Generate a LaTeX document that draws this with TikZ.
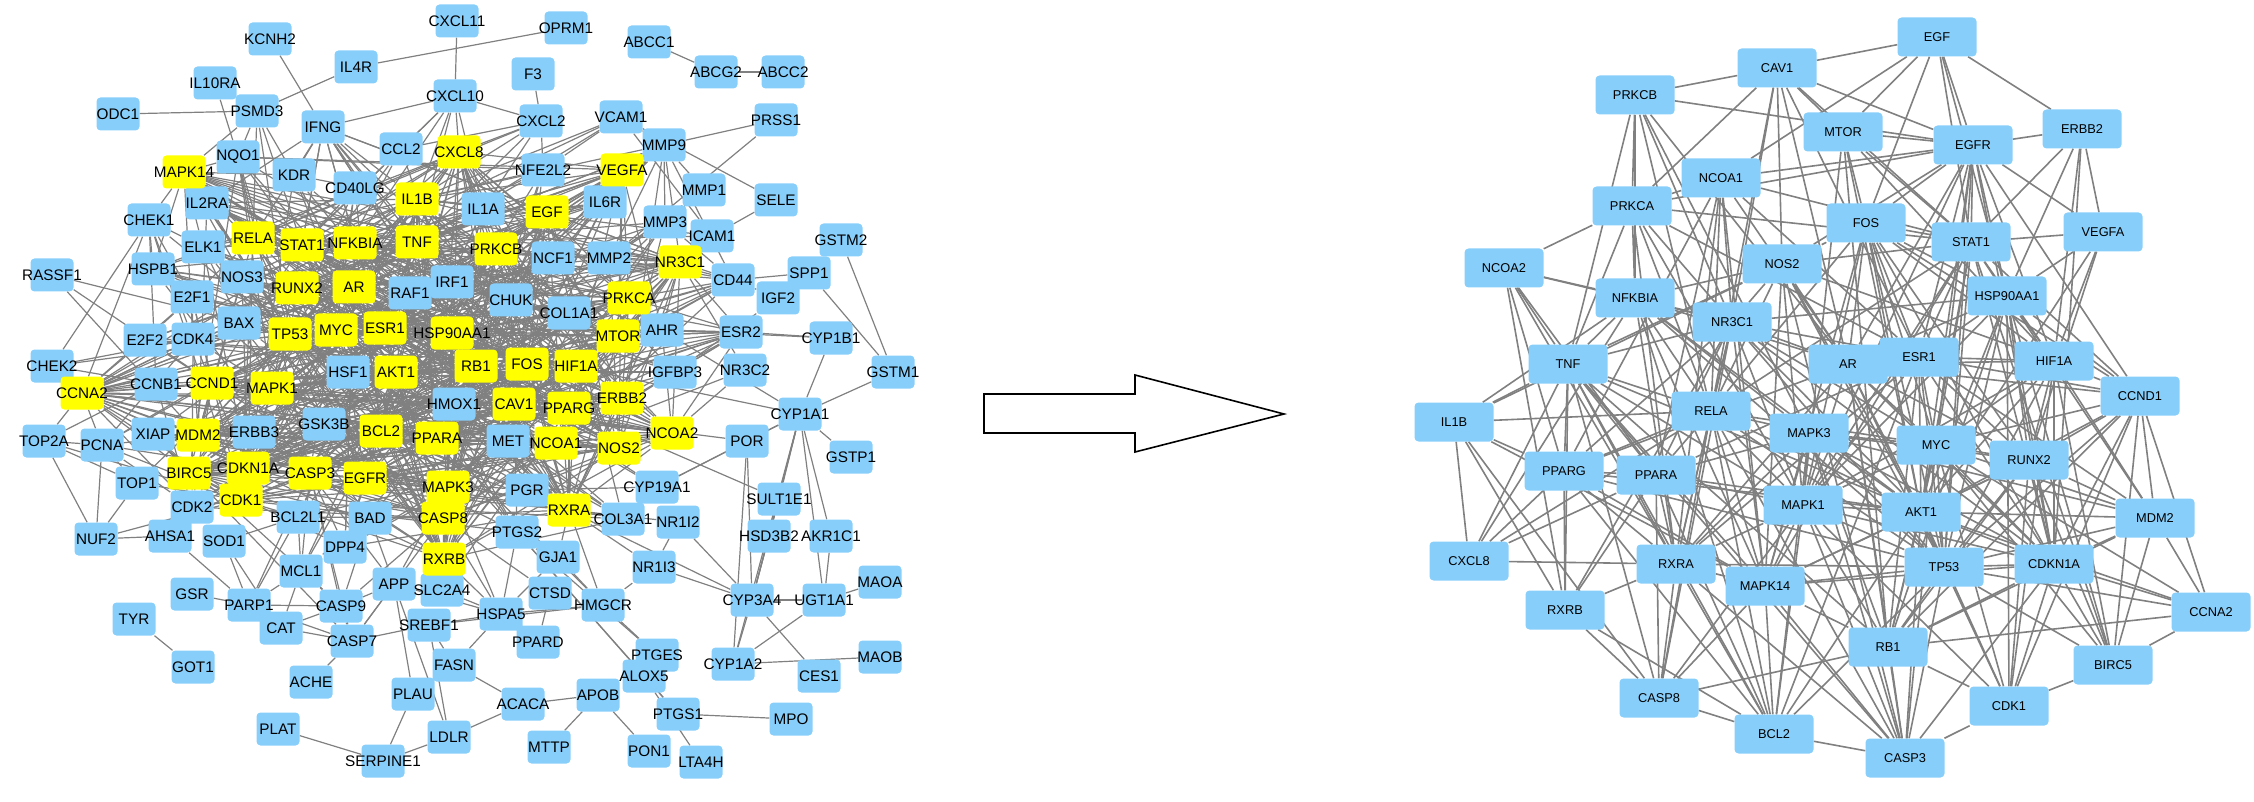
\documentclass[tikz,border=0pt]{standalone}
\usepackage{fontspec}
\setmainfont{Liberation Sans}
\usetikzlibrary{backgrounds}
\definecolor{nodeblue}{RGB}{135,206,250}
\definecolor{hubyellow}{RGB}{255,255,0}
\definecolor{edgegray}{RGB}{128,128,128}
\newcommand\lgenefont{\fontsize{15.3}{17}\selectfont}
\newcommand\rgenefont{\fontsize{12.8}{15}\selectfont}
% hub genes (yellow) and the busy blue genes of the left network
\newcommand\lhubs{MAPK14,RELA,STAT1,NFKBIA,IL1B,TNF,CXCL8,EGF,VEGFA,PRKCB,NR3C1,PRKCA,MTOR,RUNX2,AR,ESR1,TP53,MYC,HSP90AA1,RB1,FOS,HIF1A,AKT1,CAV1,PPARG,ERBB2,NCOA2,CCND1,MAPK1,CCNA2,MDM2,BIRC5,CDKN1A,CDK1,CASP3,BCL2,PPARA,NCOA1,NOS2,EGFR,MAPK3,CASP8,RXRA,RXRB}
\newcommand\lcore{KDR,CD40LG,IL2RA,ELK1,IL1A,NCF1,MMP2,CCL2,NFE2L2,IL6R,NOS3,E2F1,BAX,CDK4,CCNB1,HSF1,GSK3B,XIAP,ERBB3,RAF1,IRF1,CHUK,COL1A1,HMOX1,MET,PGR,BCL2L1,BAD,AHR,IGFBP3,ESR2,CD44,MMP9,MMP3,IFNG,NQO1,HSPB1,CDK2,PTGS2,COL3A1,DPP4,E2F2}

\begin{document}
\begin{tikzpicture}[x=1pt,y=-1pt,
  lnode/.style={rectangle,rounded corners=4pt,fill=nodeblue,minimum width=43pt,minimum height=33pt,inner sep=0pt,font=\lgenefont},
  lhub/.style={lnode,fill=hubyellow},
  rnode/.style={rectangle,rounded corners=4pt,fill=nodeblue,minimum width=79pt,minimum height=39pt,inner sep=0pt,font=\rgenefont},
  ledge/.style={edgegray,line width=1.2pt},
  redge/.style={edgegray,line width=1.6pt}]
\useasboundingbox (0,0) rectangle (2254,802);

% left network: all targets
\foreach \n/\x/\y in {KCNH2/270/39, IL4R/356/67, IL10RA/215/83, ODC1/118/114, PSMD3/257/111, IFNG/323/127, NQO1/238/157, KDR/294/175, CD40LG/355/188, IL2RA/207/203, CHEK1/149/220, ELK1/203/247, HSPB1/153/269, RASSF1/52/275, CXCL11/457/21, OPRM1/566/28, ABCC1/649/42, ABCG2/716/72, ABCC2/783/72, F3/533/74, CXCL10/455/96, CXCL2/541/121, VCAM1/621/117, PRSS1/776/120, MMP9/664/145, CCL2/401/149, NFE2L2/543/170, MMP1/704/190, SELE/776/200, IL1A/483/209, IL6R/605/202, MMP3/665/222, ICAM1/712/236, GSTM2/841/240, NCF1/553/258, MMP2/609/258, CD44/733/280, SPP1/809/273, IGF2/778/298, NOS3/242/277, E2F1/192/297, RAF1/410/293, IRF1/452/282, CHUK/511/300, COL1A1/569/313, AHR/662/330, ESR2/741/332, CYP1B1/831/338, BAX/239/323, E2F2/145/340, CDK4/193/339, CHEK2/52/366, HSF1/348/372, IGFBP3/675/372, NR3C2/745/370, GSTM1/893/372, CCNB1/156/384, HMOX1/454/404, CYP1A1/800/414, GSK3B/324/424, XIAP/153/434, ERBB3/254/432, TOP2A/44/441, PCNA/102/445, MET/508/441, POR/747/441, GSTP1/851/457, TOP1/137/483, CYP19A1/657/487, PGR/527/490, SULT1E1/779/499, CDK2/192/507, BCL2L1/298/517, BAD/370/518, COL3A1/623/519, NR1I2/678/522, PTGS2/517/532, HSD3B2/769/536, AKR1C1/831/536, NUF2/96/539, AHSA1/170/536, SOD1/224/541, DPP4/345/547, GJA1/558/557, NR1I3/654/567, MCL1/301/571, MAOA/880/582, APP/394/584, SLC2A4/442/590, CTSD/550/593, GSR/192/594, CYP3A4/752/600, UGT1A1/824/600, PARP1/249/605, CASP9/341/606, HMGCR/603/605, HSPA5/501/614, TYR/134/619, SREBF1/429/625, CAT/281/628, CASP7/352/641, PPARD/538/642, PTGES/657/655, MAOB/880/657, CYP1A2/733/664, FASN/454/665, GOT1/193/667, ALOX5/644/676, CES1/819/676, ACHE/311/682, PLAU/413/694, APOB/598/695, ACACA/523/704, PTGS1/678/714, MPO/791/719, PLAT/278/729, LDLR/449/737, MTTP/549/747, PON1/649/751, SERPINE1/383/761, LTA4H/701/762}
  \node[lnode] (l-\n) at (\x,\y) {\makebox[0pt]{\n}};
\foreach \n/\x/\y in {MAPK14/184/172, RELA/253/238, STAT1/302/245, NFKBIA/355/243, IL1B/417/199, TNF/417/242, CXCL8/459/152, EGF/547/212, VEGFA/622/170, PRKCB/496/249, NR3C1/680/262, PRKCA/629/298, MTOR/618/336, RUNX2/297/288, AR/354/287, ESR1/385/328, TP53/290/334, MYC/336/330, HSP90AA1/452/333, RB1/476/366, FOS/527/364, HIF1A/576/366, AKT1/396/372, CAV1/514/404, PPARG/569/408, ERBB2/622/398, NCOA2/672/433, CCND1/212/383, MAPK1/272/388, CCNA2/82/393, MDM2/198/435, BIRC5/189/473, CDKN1A/248/468, CDK1/241/500, CASP3/310/473, BCL2/381/431, PPARA/437/438, NCOA1/556/443, NOS2/619/448, EGFR/365/478, MAPK3/448/487, CASP8/443/518, RXRA/569/510, RXRB/444/559}
  \node[lhub] (l-\n) at (\x,\y) {\makebox[0pt]{\n}};

% arrow
\draw[line width=1.6pt,fill=white] (984,394) -- (1135,394) -- (1135,375) -- (1284,414) -- (1135,452) -- (1135,433) -- (984,433) -- cycle;

% right network: hub genes
\foreach \n/\x/\y in {EGF/1937/37, CAV1/1777/68, PRKCB/1635/95, MTOR/1843/132, EGFR/1973/145, ERBB2/2082/129, NCOA1/1721/178, PRKCA/1632/206, FOS/1866/223, STAT1/1971/242, VEGFA/2103/232, NCOA2/1504/268, NOS2/1782/264, NFKBIA/1635/298, HSP90AA1/2007/296, NR3C1/1732/322, TNF/1568/364, AR/1848/364, ESR1/1919/357, HIF1A/2054/361, CCND1/2140/396, IL1B/1454/422, RELA/1711/411, MAPK3/1809/433, MYC/1936/445, RUNX2/2029/460, PPARG/1564/471, PPARA/1656/475, MAPK1/1803/505, AKT1/1921/512, MDM2/2155/518, CXCL8/1469/561, RXRA/1676/564, MAPK14/1765/586, TP53/1944/567, CDKN1A/2054/564, RXRB/1565/610, CCNA2/2211/612, RB1/1888/647, BIRC5/2113/665, CASP8/1659/698, CDK1/2009/706, BCL2/1774/734, CASP3/1905/758}
  \node[rnode] (r-\n) at (\x,\y) {\n};

\begin{scope}[on background layer]
% left network: edges that can be traced
\foreach \a/\b in {KCNH2/IFNG, IL4R/PSMD3, IL4R/OPRM1, ODC1/PSMD3, IL10RA/NQO1, PSMD3/NQO1, PSMD3/KDR, PSMD3/MAPK14, PSMD3/RELA, PSMD3/STAT1, PSMD3/TP53, IFNG/KDR, IFNG/IL1B, IFNG/TNF, IFNG/STAT1, IFNG/CXCL10, IFNG/NFKBIA, IFNG/IL2RA, IFNG/RELA, NQO1/MAPK14, NQO1/NFE2L2, NQO1/RELA, NQO1/TP53, NQO1/AR, MAPK14/KDR, MAPK14/CHEK1, MAPK14/HSPB1, MAPK14/ELK1, MAPK14/IL2RA, IL2RA/STAT1, IL2RA/IL1B, IL2RA/TNF, CHEK1/HSPB1, CHEK1/ELK1, CHEK1/CDK4, CHEK1/E2F1, CHEK1/CCNA2, CHEK1/CCNB1, CHEK1/TP53, CHEK1/CHEK2, CHEK1/CDK1, ELK1/RELA, ELK1/MAPK1, ELK1/MAPK3, ELK1/FOS, HSPB1/CASP3, HSPB1/AKT1, RASSF1/TP53, RASSF1/CCND1, RASSF1/MDM2, CHEK2/CCNA2, CHEK2/CDK4, CHEK2/CCNB1, CHEK2/TP53, TOP2A/PCNA, TOP2A/CCNA2, TOP2A/TOP1, TOP2A/CDK1, TOP2A/NUF2, TOP2A/CCNB1, PCNA/CCNA2, PCNA/CDK2, PCNA/TOP1, PCNA/CDKN1A, PCNA/CCND1, PCNA/MDM2, PCNA/CDK4, PCNA/TP53, PCNA/NUF2, PCNA/CDK1, CCNA2/CCNB1, CCNA2/CDK4, CCNA2/CDK2, CCNA2/CDK1, CCNA2/E2F1, CCNA2/E2F2, CCNA2/BIRC5, CCNA2/CDKN1A, CCNA2/CCND1, CCNA2/XIAP, TOP1/TP53, TOP1/NUF2, TOP1/CDK1, CDK2/CDK1, CDK2/CDKN1A, CDK2/CCND1, CDK2/CCNB1, CDK2/TP53, CDK2/RB1, CDK2/CDK4, E2F1/CCND1, E2F1/RB1, E2F1/CDK4, E2F1/MYC, E2F1/TP53, E2F1/E2F2, E2F2/CDK4, E2F2/RB1, E2F2/CCND1, NOS3/AKT1, NOS3/HSP90AA1, NOS3/CAV1, NOS3/ESR1, NOS3/VEGFA, XIAP/BIRC5, XIAP/CASP3, XIAP/CASP9, XIAP/CASP7, XIAP/MDM2, NUF2/AHSA1, NUF2/CDK1, AHSA1/HSP90AA1, AHSA1/PARP1, SOD1/PARP1, SOD1/CAT, SOD1/BCL2L1, GSR/PARP1, PARP1/CAT, PARP1/CASP9, PARP1/CASP7, PARP1/MCL1, PARP1/BCL2L1, PARP1/CASP3, CAT/CASP9, CAT/CASP7, CAT/MCL1, MCL1/BCL2L1, MCL1/CASP3, MCL1/BAD, MCL1/CASP9, MCL1/BCL2, MCL1/AKT1, CASP9/CASP7, CASP9/CASP3, CASP9/APP, CASP9/BAD, CASP9/CASP8, CASP7/CASP3, CASP7/ACHE, CASP7/SREBF1, CASP7/APP, CASP7/CASP8, TYR/GOT1, PLAT/SERPINE1, SERPINE1/PLAU, SERPINE1/LDLR, LDLR/ACACA, LDLR/SREBF1, LDLR/APP, PLAU/APP, ACACA/FASN, ACACA/APOB, APOB/MTTP, APOB/PON1, FASN/SREBF1, FASN/HSPA5, SREBF1/HSPA5, HSPA5/HMGCR, HSPA5/SLC2A4, HSPA5/RXRB, HSPA5/APP, HSPA5/PTGS2, HSPA5/GJA1, HSPA5/CASP8, HSPA5/MAPK3, HSPA5/PPARD, CTSD/CASP8, CTSD/PPARD, HMGCR/PPARA, HMGCR/PTGES, HMGCR/RXRA, HMGCR/GJA1, HMGCR/NR1I3, HMGCR/SREBF1, GJA1/PTGS2, GJA1/RXRA, NR1I3/RXRA, NR1I3/CYP3A4, APP/CASP3, APP/MAPK3, APP/BAD, SLC2A4/RXRB, SLC2A4/PPARG, SLC2A4/AKT1, DPP4/CASP3, DPP4/MAPK3, PTGES/PTGS2, ALOX5/LTA4H, ALOX5/PTGS1, ALOX5/PTGS2, PTGS1/MPO, PTGS1/PTGS2, CYP3A4/NR1I2, CYP3A4/CYP1A2, CYP3A4/UGT1A1, CYP3A4/CES1, CYP3A4/HSD3B2, CYP3A4/SULT1E1, CYP3A4/POR, CYP3A4/CYP1A1, CYP3A4/PGR, UGT1A1/CYP1A1, UGT1A1/AKR1C1, UGT1A1/CYP1A2, CYP1A2/CYP1A1, CYP1A2/POR, CYP1A1/AHR, CYP1A1/CYP1B1, CYP1A1/GSTM1, CYP1A1/GSTP1, CYP1A1/POR, CYP1A1/SULT1E1, CYP1A1/AKR1C1, CYP1A1/HSD3B2, CYP1A1/CYP19A1, CYP1A1/ESR1, CYP1B1/ESR2, CYP1B1/AHR, GSTM2/GSTM1, SPP1/GSTM1, SPP1/CD44, CD44/MMP9, CD44/NR3C1, CD44/PRKCA, CD44/MMP2, CD44/MMP3, CD44/HIF1A, CD44/MTOR, IGF2/IGFBP3, IGF2/CD44, ESR2/AHR, ESR2/ESR1, ESR2/NCOA2, ESR2/NCOA1, ESR2/NR3C1, ESR2/HIF1A, ESR2/MTOR, ESR2/PRKCA, ESR2/ERBB2, ESR2/IGFBP3, NR3C2/NR3C1, NR3C2/NCOA2, NR3C2/NCOA1, POR/CYP19A1, POR/HMOX1, SULT1E1/ESR1, CYP19A1/ESR1, CYP19A1/AR, CYP19A1/PGR, NR1I2/RXRA, NR1I2/NR1I3, ABCC1/ABCG2, ABCG2/ABCC2, PRSS1/MMP2, PRSS1/MMP9, MMP9/MMP2, MMP9/MMP1, MMP9/MMP3, MMP9/VCAM1, MMP9/TNF, MMP9/IL1B, MMP9/VEGFA, SELE/ICAM1, SELE/VCAM1, MMP1/MMP2, MMP1/MMP3, ICAM1/VCAM1, ICAM1/TNF, ICAM1/IL1B, MMP3/MMP2, IL6R/STAT1, IL6R/EGF, VCAM1/NFE2L2, VCAM1/TNF, VCAM1/IL1B, VCAM1/NFKBIA, CXCL11/CXCL10, CXCL10/CXCL2, CXCL10/CCL2, CXCL10/CXCL8, CXCL10/IL1B, CXCL10/TNF, CXCL10/STAT1, CXCL10/NFKBIA, CXCL10/IL1A, F3/CXCL2, CXCL2/CCL2, CXCL2/CXCL8, CXCL2/NFE2L2, CXCL2/IL1B, CXCL2/TNF, CXCL2/IL1A, CXCL2/RELA, MAOA/UGT1A1, MAOB/CYP1A2, IGFBP3/AKT1, AHR/ESR1, AHR/NCOA1, AHR/NCOA2}
  \draw[ledge] (l-\a) -- (l-\b);
% left network: dense core around the hubs
\pgfmathsetseed{11}
\foreach \a [count=\i] in \lhubs {
  \foreach \b [count=\j] in \lhubs {
    \ifnum\j>\i\relax
      \pgfmathrandominteger{\h}{1}{100}
      \ifnum\h<42\relax \draw[ledge] (l-\a) -- (l-\b); \fi
    \fi
  }
  \foreach \b in \lcore {
    \pgfmathrandominteger{\h}{1}{100}
    \ifnum\h<16\relax \draw[ledge] (l-\a) -- (l-\b); \fi
  }
}
% right network
\foreach \s/\ts in {EGF/{CAV1,ERBB2,EGFR,MTOR,NCOA1,FOS,STAT1,HSP90AA1},
  CAV1/{PRKCB,EGFR,MTOR,PRKCA,NOS2,AR,ESR1,STAT1,RELA,NR3C1},
  PRKCB/{EGFR,PRKCA,NFKBIA,NR3C1,RELA,MAPK3,AR,TNF},
  MTOR/{EGFR,STAT1,HIF1A,AKT1,MAPK1,FOS,RB1},
  EGFR/{ERBB2,NCOA1,VEGFA,STAT1,HSP90AA1,ESR1,AR,FOS,NOS2,MYC,AKT1,MAPK1,CDKN1A,TP53,HIF1A,PRKCA,CCND1},
  ERBB2/{VEGFA,HSP90AA1,STAT1,HIF1A,CDKN1A},
  VEGFA/{HIF1A,HSP90AA1,STAT1,AKT1,RUNX2},
  NCOA1/{PRKCA,AR,ESR1,NR3C1,RXRA,PPARG,PPARA,RELA,STAT1,MAPK14},
  PRKCA/{NCOA2,STAT1,NFKBIA,TNF,RELA,NR3C1,MAPK1,RXRA,ESR1},
  NCOA2/{NFKBIA,NR3C1,TNF,RXRA,RXRB,PPARG,PPARA},
  FOS/{NOS2,STAT1,AR,ESR1,MYC,HSP90AA1,RELA,MAPK1,MAPK14,TP53,AKT1,CCND1,HIF1A,CDKN1A,RUNX2},
  STAT1/{HSP90AA1,NOS2,ESR1,MYC,HIF1A,RELA,MAPK1,MAPK14,TP53,AKT1,CDKN1A,CCND1,BIRC5},
  NOS2/{NFKBIA,NR3C1,RELA,TNF,AR,MAPK1,MAPK14,HIF1A,AKT1,TP53,IL1B,CASP3},
  NFKBIA/{NR3C1,TNF,RELA,IL1B,AR,MAPK3,MAPK14,TP53,AKT1,RXRA,CXCL8,BCL2},
  HSP90AA1/{ESR1,AR,HIF1A,AKT1,TP53,MAPK1,NR3C1,CDKN1A,MDM2,RB1,RUNX2,CCND1,CDK1,BIRC5},
  NR3C1/{TNF,RELA,AR,ESR1,PPARG,PPARA,RXRA,MAPK1,MAPK14,TP53,AKT1,MYC,CDKN1A,RXRB,CASP8},
  TNF/{RELA,IL1B,PPARG,PPARA,RXRA,CXCL8,CASP8,CASP3,MAPK1,MAPK14,AKT1,RB1,BCL2,RXRB},
  AR/{ESR1,MYC,MAPK1,AKT1,TP53,RB1,CDKN1A,CCND1,RXRA,PPARG,HIF1A,RUNX2,CASP3},
  ESR1/{MYC,HIF1A,CCND1,AKT1,TP53,MAPK1,CDKN1A,RB1,MDM2,RUNX2,PPARA,RXRA,BCL2},
  HIF1A/{CCND1,MDM2,CDKN1A,TP53,AKT1,MYC,RUNX2,MAPK1,BIRC5,CDK1},
  CCND1/{MYC,CDKN1A,CDK1,RB1,MDM2,AKT1,TP53,RUNX2,CCNA2,BIRC5},
  RELA/{IL1B,MAPK3,MAPK1,MAPK14,MYC,AKT1,TP53,PPARG,PPARA,RXRA,CASP8,CASP3,BCL2,CXCL8},
  MAPK3/{MAPK1,MYC,AKT1,TP53,RB1,MAPK14,RXRA,PPARA,CASP3,CDKN1A,BCL2,RUNX2,MDM2},
  MYC/{RUNX2,AKT1,TP53,MAPK1,CDKN1A,RB1,MDM2,CDK1,CCNA2,BIRC5,CASP3},
  RUNX2/{CDKN1A,TP53,AKT1,MDM2,CDK1,RB1,MAPK14,BIRC5},
  IL1B/{PPARG,CXCL8,RXRB,CASP8,MAPK14},
  PPARG/{PPARA,RXRA,RXRB,CXCL8,MAPK14,BCL2,TP53,AKT1},
  PPARA/{RXRA,RXRB,CXCL8,MAPK1,BCL2,AKT1,CASP8},
  MAPK1/{AKT1,MAPK14,TP53,RB1,CDKN1A,RXRA,CASP3,CASP8,BCL2,CDK1},
  AKT1/{TP53,MDM2,CDKN1A,RB1,MAPK14,CASP3,BCL2,CCNA2,CDK1},
  MDM2/{TP53,CDKN1A,CCNA2,RB1,BIRC5},
  CXCL8/{RXRA},
  RXRA/{RXRB,MAPK14,CASP8,BCL2,TP53,CASP3},
  MAPK14/{TP53,RB1,CASP3,CASP8,BCL2,CDKN1A},
  TP53/{CDKN1A,RB1,CASP3,CDK1,BIRC5,CCNA2,BCL2},
  CDKN1A/{RB1,CDK1,BIRC5,CCNA2,CASP3},
  RXRB/{BCL2,CASP8},
  RB1/{CDK1,CCNA2,CASP3,CASP8},
  BIRC5/{CCNA2,CDK1},
  CDK1/{CASP3},
  CASP8/{BCL2},
  BCL2/{CASP3}}
  {\foreach \t in \ts {\draw[redge] (r-\s) -- (r-\t);}}
\end{scope}
\end{tikzpicture}
\end{document}
